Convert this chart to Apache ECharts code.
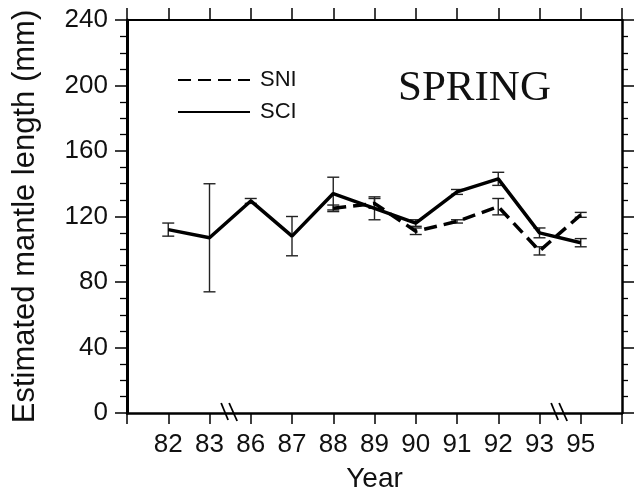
<!DOCTYPE html>
<html><head><meta charset="utf-8">
<script src="https://cdn.jsdelivr.net/npm/echarts@6/dist/echarts.min.js"></script>
<style>html,body{margin:0;padding:0;background:#fff}#c{width:636px;height:494px}</style>
</head><body><div id="c"></div>
<script>
// ---- data ----
const yearLabels = ['82','83','86','87','88','89','90','91','92','93','95'];
const sciMean = [112, 107, 129.5, 108, 134, 125, 116, 135, 143, 110, 104];
const sciErr  = [4, 33, 1.5, 12, 10, 7, 2, 1.5, 4, 3, 2.5];
const sniMean = [null, null, null, null, 125, 128, 111, 117, 126, 99, 121];
const sniErr  = [null, null, null, null, 2, 3, 2, 1, 5, 2.5, 1.5];
const breakPositions = [2.5, 10.5];

const xs = yearLabels.map((_, i) => i + 1);
const sciData = xs.map((x, i) => [x, sciMean[i]]);
const sniData = xs.map((x, i) => [x, sniMean[i]]).filter(d => d[1] != null);
const sciErrData = xs.map((x, i) => [x, sciMean[i] - sciErr[i], sciMean[i] + sciErr[i]]);
const sniErrData = xs.map((x, i) => sniMean[i] == null ? null : [x, sniMean[i] - sniErr[i], sniMean[i] + sniErr[i]]).filter(Boolean);

function errRender(params, api) {
  const x = api.value(0);
  const lo = api.coord([x, api.value(1)]);
  const hi = api.coord([x, api.value(2)]);
  const hw = 6;
  const style = { stroke: '#222', lineWidth: 1.4 };
  return { type: 'group', children: [
    { type: 'line', shape: { x1: lo[0], y1: lo[1], x2: hi[0], y2: hi[1] }, style },
    { type: 'line', shape: { x1: lo[0] - hw, y1: lo[1], x2: lo[0] + hw, y2: lo[1] }, style },
    { type: 'line', shape: { x1: hi[0] - hw, y1: hi[1], x2: hi[0] + hw, y2: hi[1] }, style }
  ]};
}
function breakRender(params, api) {
  const p = api.coord([api.value(0), 0]);
  const s = { stroke: '#000', lineWidth: 1.8 };
  return { type: 'group', children: [
    { type: 'line', shape: { x1: p[0] - 9, y1: p[1] - 10, x2: p[0] - 2, y2: p[1] + 7 }, style: s },
    { type: 'line', shape: { x1: p[0] - 1, y1: p[1] - 10, x2: p[0] + 7, y2: p[1] + 8 }, style: s }
  ]};
}

const FONT = 'Liberation Sans, Arial, sans-serif';
const chart = echarts.init(document.getElementById('c'), null, { renderer: 'canvas' });
chart.setOption({
  animation: false,
  backgroundColor: '#fff',
  title: {
    text: 'SPRING', left: 398, top: 67, padding: 0,
    textStyle: { fontFamily: 'Liberation Serif, Times New Roman, serif', fontSize: 43, fontWeight: 'normal', color: '#111' }
  },
  legend: {
    data: ['SNI', 'SCI'], orient: 'vertical', left: 177, top: 69, padding: 0,
    itemWidth: 72, itemHeight: 14, itemGap: 10,
    itemStyle: { opacity: 0 },
    textStyle: { fontFamily: FONT, fontSize: 22, color: '#111', padding: [0, 0, 0, 5] }
  },
  grid: { left: 127, right: 14, top: 20, bottom: 81, containLabel: false, outerBoundsMode: 'none' },
  xAxis: [{
    type: 'value', min: 0, max: 12, interval: 1, position: 'bottom',
    name: 'Year', nameLocation: 'middle', nameGap: 52,
    nameTextStyle: { fontFamily: FONT, fontSize: 28, color: '#111' },
    axisLine: { show: true, onZero: false, lineStyle: { color: '#000', width: 2.5 } },
    axisTick: { show: true, inside: false, length: 11, lineStyle: { color: '#000', width: 1.5 } },
    axisLabel: {
      fontFamily: FONT, fontSize: 26, color: '#111', margin: 19,
      formatter: v => (v >= 1 && v <= yearLabels.length) ? yearLabels[v - 1] : ''
    },
    splitLine: { show: false }
  }, {
    type: 'value', min: 0, max: 12, interval: 1, position: 'top',
    axisLine: { show: true, onZero: false, lineStyle: { color: '#000', width: 2 } },
    axisTick: { show: true, inside: false, length: 12, lineStyle: { color: '#000', width: 1.5 } },
    axisLabel: { show: false }, splitLine: { show: false }
  }],
  yAxis: [{
    type: 'value', min: 0, max: 240, interval: 40, position: 'left',
    name: 'Estimated mantle length (mm)', nameLocation: 'middle', nameGap: 86,
    nameTextStyle: { fontFamily: FONT, fontSize: 31, color: '#111' },
    axisLine: { show: true, onZero: false, lineStyle: { color: '#000', width: 3 } },
    axisTick: { show: true, inside: false, length: 12, lineStyle: { color: '#000', width: 1.5 } },
    minorTick: { show: true, splitNumber: 4, length: 7, lineStyle: { color: '#000', width: 1.3 } },
    axisLabel: { fontFamily: FONT, fontSize: 26, color: '#111', margin: 19 },
    splitLine: { show: false }
  }, {
    type: 'value', min: 0, max: 240, interval: 40, position: 'right',
    axisLine: { show: true, onZero: false, lineStyle: { color: '#000', width: 2.5 } },
    axisTick: { show: true, inside: false, length: 12, lineStyle: { color: '#000', width: 1.5 } },
    minorTick: { show: true, splitNumber: 4, length: 6, lineStyle: { color: '#000', width: 1.3 } },
    axisLabel: { show: false }, splitLine: { show: false }
  }],
  series: [
    {
      name: 'SNI', type: 'line', data: sniData, symbol: 'none', z: 3,
      lineStyle: { color: '#000', width: 3.5, type: [13, 7] }, itemStyle: { color: '#000' }
    },
    {
      name: 'SCI', type: 'line', data: sciData, symbol: 'none', z: 4,
      lineStyle: { color: '#000', width: 3.5, type: 'solid' }, itemStyle: { color: '#000' }
    },
    { name: 'SCI err', type: 'custom', data: sciErrData, renderItem: errRender, encode: { x: 0, y: [1, 2] }, z: 2 },
    { name: 'SNI err', type: 'custom', data: sniErrData, renderItem: errRender, encode: { x: 0, y: [1, 2] }, z: 2 },
    { name: 'breaks', type: 'custom', data: breakPositions.map(b => [b, 0]), renderItem: breakRender, encode: { x: 0, y: 1 }, clip: false, z: 10 }
  ]
});
</script>
</body></html>
